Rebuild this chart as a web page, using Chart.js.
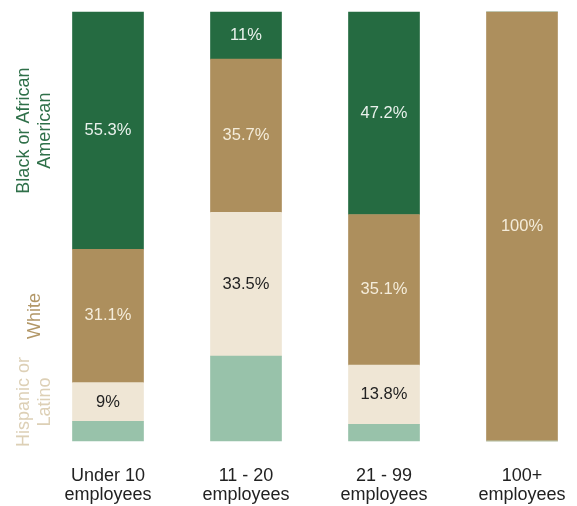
<!DOCTYPE html>
<html>
<head>
<meta charset="utf-8">
<script src="https://cdn.jsdelivr.net/npm/chart.js@4/dist/chart.umd.min.js"></script>
<style>
  html, body { margin: 0; padding: 0; background: #fff; }
  #wrap { width: 577px; height: 506px; }
</style>
</head>
<body>
<div id="wrap"><canvas id="chart"></canvas></div>
<script>
// categories (multi-line tick labels)
const categories = [
  ['Under 10', 'employees'],
  ['11 - 20', 'employees'],
  ['21 - 99', 'employees'],
  ['100+', 'employees'],
];

// series, stacked bottom to top
const otherValues = [4.6, 19.8, 3.9, 0];
const hispanicValues = [9, 33.5, 13.8, 0];
const whiteValues = [31.1, 35.7, 35.1, 100];
const blackValues = [55.3, 11, 47.2, 0];

const seriesNames = ['Other', 'Hispanic or Latino', 'White', 'Black or African American'];
const sideLabels = [null, ['Hispanic or', 'Latino'], ['White'], ['Black or African', 'American']];

const barColors = ['#98c2aa', '#efe6d5', '#ad8f5d', '#256b41'];
const valueColors = [null, '#222222', '#f4ecda', '#e9f1ec'];
const sideColors = [null, '#ddd0b6', '#b29767', '#2f7049'];

Chart.defaults.font.family = "'Liberation Sans', Arial, sans-serif";

// percent labels inside each segment
const valueLabels = {
  id: 'valueLabels',
  afterDatasetsDraw(chart) {
    const { ctx } = chart;
    ctx.save();
    ctx.font = "16.5px 'Liberation Sans', Arial, sans-serif";
    ctx.textAlign = 'center';
    ctx.textBaseline = 'middle';
    chart.data.datasets.forEach((ds, i) => {
      if (!valueColors[i]) return;
      const meta = chart.getDatasetMeta(i);
      meta.data.forEach((bar, j) => {
        const v = ds.data[j];
        if (!v) return;
        ctx.fillStyle = valueColors[i];
        ctx.fillText(`${v}%`, bar.x, (bar.y + bar.base) / 2);
      });
    });
    ctx.restore();
  },
};

// rotated series names on the left, next to the first bar
const sideLegend = {
  id: 'sideLegend',
  afterDatasetsDraw(chart) {
    const { ctx } = chart;
    const lineGap = 21;
    ctx.save();
    ctx.font = "18px 'Liberation Sans', Arial, sans-serif";
    ctx.textAlign = 'center';
    ctx.textBaseline = 'middle';
    chart.data.datasets.forEach((ds, i) => {
      const lines = sideLabels[i];
      if (!lines) return;
      const bar = chart.getDatasetMeta(i).data[0];
      const cy = (bar.y + bar.base) / 2;
      ctx.save();
      ctx.translate(35, cy);
      ctx.rotate(-Math.PI / 2);
      ctx.fillStyle = sideColors[i];
      lines.forEach((line, k) => {
        ctx.fillText(line, 0, (k - (lines.length - 1) / 2) * lineGap);
      });
      ctx.restore();
    });
    ctx.restore();
  },
};

const seriesValues = [otherValues, hispanicValues, whiteValues, blackValues];

new Chart(document.getElementById('chart'), {
  type: 'bar',
  data: {
    labels: categories,
    datasets: seriesValues.map((vals, i) => ({
      label: seriesNames[i],
      data: vals,
      backgroundColor: barColors[i],
      borderWidth: 0,
      barThickness: 71,
      clip: false,
    })),
  },
  options: {
    responsive: true,
    maintainAspectRatio: false,
    animation: false,
    layout: {
      padding: { top: 12, left: 108, right: 55, bottom: 0 },
    },
    plugins: {
      legend: { display: false },
      tooltip: { enabled: false },
    },
    scales: {
      x: {
        stacked: true,
        offset: false,
        grid: { display: false },
        border: { display: false },
        afterFit(scale) {
          scale.height = 65;
          scale.paddingLeft = 0;
          scale.paddingRight = 0;
        },
        ticks: {
          color: '#222222',
          font: { size: 18, lineHeight: 1.05 },
          padding: 18,
          maxRotation: 0,
          autoSkip: false,
        },
      },
      y: {
        stacked: true,
        display: false,
        min: 0,
        max: 100,
      },
    },
  },
  plugins: [valueLabels, sideLegend],
});
</script>
</body>
</html>
